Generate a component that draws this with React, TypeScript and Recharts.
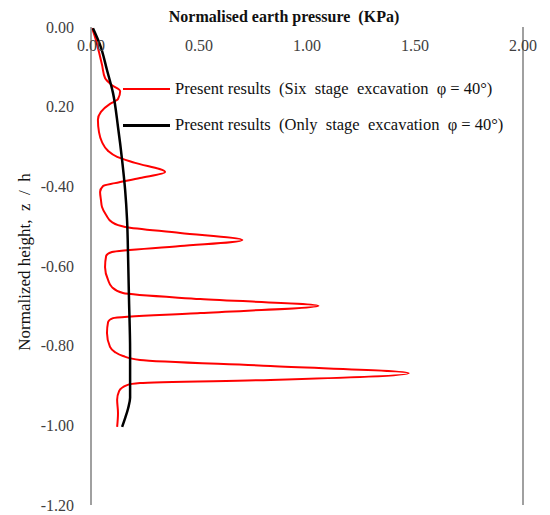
import { LineChart, Line, XAxis, YAxis, ReferenceLine } from "recharts";

// Six stage excavation (red)
const sixPressure = [
  0.005, 0.023, 0.037, 0.051, 0.065, 0.097, 0.135, 0.125, 0.088, 0.046, 0.032,
  0.037, 0.051, 0.079, 0.121, 0.204, 0.343, 0.227, 0.111, 0.056, 0.042, 0.046,
  0.051, 0.07, 0.097, 0.158, 0.413, 0.701, 0.413, 0.097, 0.07, 0.065, 0.079,
  0.097, 0.148, 0.506, 1.053, 0.506, 0.102, 0.079, 0.074, 0.088, 0.111, 0.148,
  0.227, 0.831, 1.471, 0.831, 0.227, 0.167, 0.13, 0.121, 0.125, 0.121,
];
const sixHeight = [
  -0.003, -0.033, -0.063, -0.095, -0.128, -0.146, -0.161, -0.181, -0.193,
  -0.213, -0.233, -0.264, -0.289, -0.311, -0.326, -0.341, -0.364, -0.379,
  -0.392, -0.399, -0.414, -0.434, -0.452, -0.472, -0.49, -0.502, -0.517,
  -0.535, -0.55, -0.565, -0.575, -0.603, -0.635, -0.653, -0.668, -0.683, -0.7,
  -0.718, -0.731, -0.741, -0.768, -0.803, -0.816, -0.826, -0.836, -0.851,
  -0.869, -0.886, -0.894, -0.899, -0.914, -0.936, -0.969, -1.004,
];

// Only stage excavation (black)
const onlyPressure = [
  0.009, 0.042, 0.074, 0.102, 0.125, 0.144, 0.158, 0.167, 0.172, 0.176, 0.181,
  0.181, 0.172, 0.158, 0.144,
];
const onlyHeight = [
  -0.003, -0.045, -0.108, -0.166, -0.251, -0.334, -0.409, -0.485, -0.585,
  -0.685, -0.811, -0.931, -0.957, -0.982, -1.004,
];

const xTicks = [0, 0.5, 1, 1.5, 2];
const yTicks = [0, -0.2, -0.4, -0.6, -0.8, -1, -1.2];

const legendItems = [
  { color: "#ff0000", w: 1.5, text: "Present results  (Six  stage  excavation  φ = 40°)" },
  { color: "#000000", w: 3, text: "Present results  (Only  stage  excavation  φ = 40°)" },
];

const sixData = sixPressure.map((x, i) => ({ x, y: sixHeight[i] }));
const onlyData = onlyPressure.map((x, i) => ({ x, y: onlyHeight[i] }));

const FONT = "'Liberation Serif', 'Times New Roman', serif";

const TopTick = ({ x, payload }: any) => (
  <text
    x={x}
    y={51}
    textAnchor="middle"
    fontFamily={FONT}
    fontSize={16}
    fill="#404040"
  >
    {Number(payload.value).toFixed(2)}
  </text>
);

export default function App() {
  return (
    <div style={{ position: "absolute", left: 0, top: 0, width: 550, height: 515, background: "#fff" }}>
      <LineChart
        width={550}
        height={515}
        margin={{ top: 7, right: 27, bottom: 10, left: 31 }}
      >
        <XAxis
          type="number"
          dataKey="x"
          orientation="top"
          domain={[0, 2]}
          ticks={xTicks}
          height={20}
          axisLine={false}
          tickLine={false}
          tick={<TopTick />}
        />
        <YAxis
          type="number"
          domain={[-1.2, 0]}
          ticks={yTicks}
          width={60}
          axisLine={{ stroke: "#808080", strokeWidth: 1.5 }}
          tickLine={false}
          tickMargin={11}
          tick={{ fontFamily: FONT, fontSize: 16, fill: "#404040" }}
          tickFormatter={(v: number) => (v === -0.2 ? "0.20" : v.toFixed(2))}
        />
        <ReferenceLine x={2} stroke="#808080" strokeWidth={1.5} />
        <Line
          data={sixData}
          dataKey="y"
          type="monotoneY"
          stroke="#ff0000"
          strokeWidth={2}
          dot={false}
          isAnimationActive={false}
        />
        <Line
          data={onlyData}
          dataKey="y"
          type="monotoneY"
          stroke="#000000"
          strokeWidth={2.5}
          dot={false}
          isAnimationActive={false}
        />
      </LineChart>

      {/* legend */}
      <div
        style={{
          position: "absolute",
          left: 123,
          top: 71,
          fontFamily: FONT,
          fontSize: 16.5,
          color: "#111",
        }}
      >
        {legendItems.map((it, i) => (
          <div
            key={i}
            style={{ display: "flex", alignItems: "center", height: 36, whiteSpace: "pre" }}
          >
            <div style={{ width: 47, height: it.w, background: it.color, marginRight: 5 }} />
            <span>{it.text}</span>
          </div>
        ))}
      </div>

      <div
        style={{
          position: "absolute",
          left: 284,
          top: 17,
          transform: "translate(-50%, -50%)",
          fontFamily: FONT,
          fontSize: 16,
          fontWeight: "bold",
          whiteSpace: "pre",
          color: "#111",
        }}
      >
        Normalised earth pressure  (KPa)
      </div>
      <div
        style={{
          position: "absolute",
          left: 25,
          top: 262,
          transform: "translate(-50%, -50%) rotate(-90deg)",
          fontFamily: FONT,
          fontSize: 17,
          whiteSpace: "pre",
          color: "#111",
        }}
      >
        Normalized height,  z  /  h
      </div>
    </div>
  );
}
